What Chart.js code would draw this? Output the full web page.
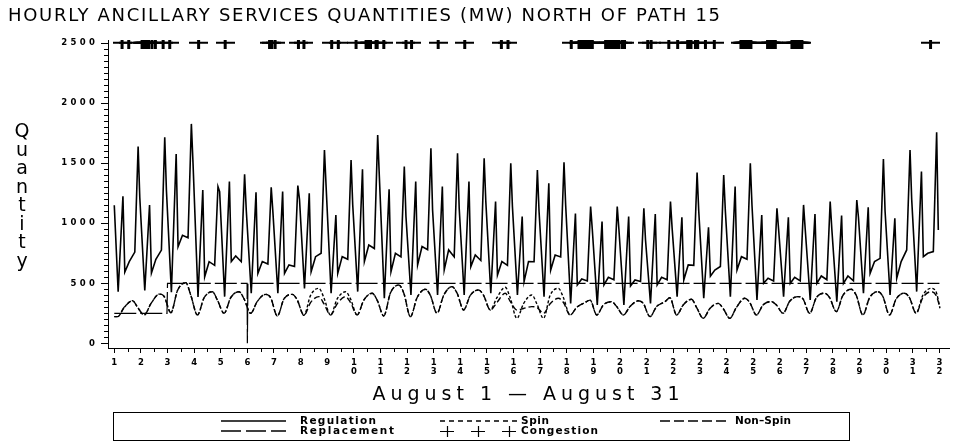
<!DOCTYPE html>
<html>
<head>
<meta charset="utf-8">
<script src="https://cdn.jsdelivr.net/npm/chart.js@4.4.1/dist/chart.umd.min.js"></script>
<style>
  html, body { margin: 0; padding: 0; background: #fff; }
  #wrap { width: 956px; height: 443px; position: relative; }
</style>
</head>
<body>
<div id="wrap"><canvas id="qtyChart"></canvas></div>
<script>
// x axis: days of August (tick labels are the day numbers, digits stacked)
const dayTicks = [1, 2, 3, 4, 5, 6, 7, 8, 9, 10, 11, 12, 13, 14, 15, 16, 17, 18, 19, 20, 21, 22, 23, 24, 25, 26, 27, 28, 29, 30, 31, 32];
const days = [1, 2, 3, 4, 5, 6, 7, 8, 9, 10, 11, 12, 13, 14, 15, 16, 17, 18, 19, 20, 21, 22, 23, 24, 25, 26, 27, 28, 29, 30, 31];
const quantityTicks = [0, 500, 1000, 1500, 2000, 2500];

// Regulation (MW), read per day at these hours of the day
const regHours = [3.5, 7.8, 9.5, 13.5, 18.5, 21.5, 23];
const regStart = 1150;
const regLow = [430, 440, 426, 387, 389, 417, 417, 458, 417, 431, 375, 403, 403, 403, 417, 403, 389, 333, 320, 320, 333, 389, 375, 389, 361, 389, 361, 347, 417, 403, 431];
const regMorning = [1225, 1153, 1578, 1278, 1347, 1258, 1264, 1250, 1069, 1450, 1283, 1347, 1306, 1347, 1181, 1056, 1333, 1081, 1014, 1056, 1078, 1050, 967, 1306, 1069, 1050, 1078, 1064, 1133, 1042, 1431];
const regAfterMorning = [594, 585, 805, 554, 681, 583, 583, 597, 583, 681, 597, 653, 611, 639, 569, 514, 611, 486, 486, 478, 486, 528, 560, 611, 500, 500, 500, 500, 583, 542, 722];
const regMidday = [680, 700, 900, 680, 728, 681, 653, 722, 722, 819, 750, 806, 778, 736, 681, 681, 736, 536, 550, 528, 550, 653, 611, 722, 542, 550, 561, 561, 681, 681, 750];
const regLateDay = [760, 777, 880, 650, 680, 660, 640, 750, 700, 790, 720, 780, 720, 690, 650, 680, 720, 520, 530, 515, 530, 650, 640, 700, 520, 520, 530, 520, 708, 778, 764];
const regEvening = [1640, 1717, 1828, 1306, 1408, 1300, 1314, 1611, 1528, 1736, 1472, 1625, 1583, 1542, 1500, 1444, 1508, 1139, 1139, 1125, 1181, 1422, 1403, 1500, 1125, 1153, 1181, 1194, 1536, 1611, 1758];
const regNight = [1215, 1278, 1500, 1264, 1111, 1097, 1200, 1306, 1153, 1389, 1056, 1111, 1125, 1181, 1139, 1100, 1150, 950, 950, 861, 958, 1100, 1100, 1150, 950, 950, 950, 1050, 1100, 1200, 945];

// Spin and Non-Spin (MW), read per day at these hours
const reserveHours = [3, 9, 16.5, 21];
const spinStart = 222;
const spinLow = [222, 236, 255, 236, 250, 250, 227, 233, 236, 236, 228, 222, 250, 278, 278, 208, 208, 236, 236, 236, 222, 236, 208, 208, 236, 250, 250, 264, 236, 236, 250];
const spinMorning = [300, 330, 440, 380, 380, 350, 370, 400, 370, 360, 420, 380, 400, 400, 380, 330, 400, 300, 320, 306, 306, 320, 290, 300, 320, 350, 380, 400, 380, 370, 400];
const spinPeak = [355, 410, 505, 430, 430, 408, 408, 458, 430, 417, 486, 450, 472, 444, 467, 403, 458, 340, 347, 355, 347, 367, 333, 375, 347, 389, 417, 450, 430, 417, 458];
const spinEvening = [300, 390, 400, 360, 370, 380, 360, 380, 370, 360, 420, 400, 420, 400, 380, 330, 380, 360, 306, 333, 380, 300, 290, 340, 320, 370, 380, 400, 390, 380, 430];
const spinEnd = 292;

const nonSpinStart = 222;
const nonSpinLow = [222, 236, 255, 236, 250, 250, 227, 233, 236, 236, 228, 222, 250, 278, 278, 278, 250, 236, 236, 236, 222, 236, 208, 208, 236, 250, 250, 264, 236, 236, 250];
const nonSpinMorning = [300, 330, 440, 380, 380, 350, 370, 340, 330, 360, 420, 380, 400, 400, 340, 290, 330, 300, 320, 306, 306, 320, 290, 300, 320, 350, 380, 400, 380, 370, 380];
const nonSpinPeak = [355, 410, 505, 430, 430, 408, 408, 389, 389, 417, 486, 450, 472, 444, 417, 306, 375, 340, 347, 355, 347, 367, 333, 375, 347, 389, 417, 450, 430, 417, 430];
const nonSpinEvening = [300, 390, 400, 360, 370, 380, 360, 330, 340, 360, 420, 400, 420, 400, 350, 300, 340, 360, 306, 333, 380, 300, 290, 340, 320, 370, 380, 400, 390, 380, 400];
const nonSpinEnd = 300;

// Replacement (MW): step series, positions in days
const replacementDays = [1.0, 2.98, 3.0, 5.99, 6.0, 6.02, 32.0];
const replacementValues = [250, 250, 500, 500, 0, 500, 500];

// Congestion: hours (from Aug 1 00:00) flagged, drawn at 2500
const congestionLevel = 2500;
const congestionHours = [7, 13, 25, 26, 27, 28, 29, 30, 31, 34, 37, 44, 50, 76, 100, 140, 142, 145, 166, 171,
  196, 202, 218, 227, 228, 230, 231, 236, 237, 243, 263, 268, 292, 316, 349, 355,
  412, 419, 420, 421, 422, 423, 424, 425, 426, 427, 428, 429, 430, 431,
  443, 444, 445, 446, 447, 448, 449, 450, 451, 452, 453, 454, 455, 458, 460,
  481, 484, 500, 508, 517, 518, 519, 520, 524, 526, 533, 541,
  565, 566, 567, 568, 569, 570, 571, 572, 573, 574,
  589, 590, 591, 592, 593, 594, 595, 596,
  611, 612, 613, 614, 615, 616, 617, 618, 619, 620, 736];

function dailyPoints(startVal, hours, cols, endVal) {
  const pts = [];
  if (startVal != null) pts.push({ x: 1, y: startVal });
  days.forEach((d, i) => {
    hours.forEach((h, k) => pts.push({ x: d + h / 24, y: cols[k][i] }));
  });
  if (endVal != null) pts.push({ x: 32.02, y: endVal });
  return pts;
}

function plusMarker(w, h, lw) {
  const c = document.createElement("canvas");
  c.width = w;
  c.height = h;
  const g = c.getContext("2d");
  g.fillStyle = "#000";
  g.fillRect(0, Math.floor(h / 2) - 1, w, 2);
  g.fillRect(Math.floor((w - lw) / 2), 0, lw, h);
  return c;
}

const regulationData = dailyPoints(regStart, regHours,
  [regLow, regMorning, regAfterMorning, regMidday, regLateDay, regEvening, regNight], null);
const spinData = dailyPoints(spinStart, reserveHours, [spinLow, spinMorning, spinPeak, spinEvening], spinEnd);
const nonSpinData = dailyPoints(nonSpinStart, reserveHours, [nonSpinLow, nonSpinMorning, nonSpinPeak, nonSpinEvening], nonSpinEnd);
const replacementData = replacementDays.map((d, i) => ({ x: d, y: replacementValues[i] }));
const congestionData = congestionHours.map(h => ({ x: 1 + h / 24, y: congestionLevel }));

function spacedText(ctx, text, x, y, targetWidth, align) {
  ctx.letterSpacing = "0px";
  const w = ctx.measureText(text).width;
  const sp = targetWidth && text.length > 1 ? (targetWidth - w) / (text.length - 1) : 0;
  ctx.letterSpacing = sp + "px";
  ctx.textAlign = "left";
  let left = x;
  const full = w + sp * (text.length - 1);
  if (align === "center") left = x - full / 2;
  if (align === "right") left = x - full;
  ctx.fillText(text, left, y);
  ctx.letterSpacing = "0px";
}

const decorPlugin = {
  id: "decor",
  afterDraw(chart) {
    const ctx = chart.ctx;
    const xs = chart.scales.x;
    const ys = chart.scales.y;
    const area = chart.chartArea;
    ctx.save();
    ctx.letterSpacing = "0px";
    ctx.fillStyle = "#000";
    ctx.strokeStyle = "#000";
    ctx.lineWidth = 1;

    // minor ticks
    ctx.beginPath();
    for (let v = 50; v < 2500; v += 50) {
      if (v % 500 === 0) continue;
      const py = Math.round(ys.getPixelForValue(v)) + 0.5;
      ctx.moveTo(area.left - 4, py);
      ctx.lineTo(area.left, py);
    }
    for (let d = 1.5; d < 32; d += 1) {
      const px = Math.round(xs.getPixelForValue(d)) + 0.5;
      ctx.moveTo(px, area.bottom);
      ctx.lineTo(px, area.bottom + 4);
    }
    ctx.stroke();

    // y tick labels, wide spaced
    ctx.font = 'bold 8.5px "DejaVu Sans"';
    ctx.textBaseline = "middle";
    ys.ticks.forEach(t => {
      const s = String(t.value);
      const w = s.length * 9.3 - 3.4;
      spacedText(ctx, s, 95, ys.getPixelForValue(t.value), w, "right");
    });

    // title
    ctx.textBaseline = "alphabetic";
    ctx.font = '18px "DejaVu Sans"';
    spacedText(ctx, "HOURLY ANCILLARY SERVICES QUANTITIES (MW) NORTH OF PATH 15", 8, 21, 712, "left");

    // y axis title, letters stacked
    ctx.font = '19px "DejaVu Sans"';
    ctx.textAlign = "center";
    "Quantity".split("").forEach((ch, i) => {
      ctx.fillText(ch, 22, 137 + i * 18.5);
    });

    // x axis title
    ctx.font = '19px "DejaVu Sans"';
    spacedText(ctx, "August 1 \u2014 August 31", 526, 400, 307, "center");

    // legend box
    const bx = 113.5, by = 412.5, bw = 736, bh = 28;
    ctx.strokeRect(bx, by, bw, bh);
    const row1 = 421, row2 = 431;
    const sample = (x0, x1, yy, dash) => {
      ctx.beginPath();
      ctx.setLineDash(dash);
      ctx.lineWidth = 1.3;
      ctx.moveTo(x0, yy);
      ctx.lineTo(x1, yy);
      ctx.stroke();
      ctx.setLineDash([]);
    };
    sample(221, 286, row1, []);
    sample(440, 517, row1, [5, 4]);
    sample(660, 728, row1, [10, 4]);
    sample(221, 286, row2, [20, 5]);
    ctx.lineWidth = 1.2;
    [447, 478, 509].forEach(px => {
      ctx.beginPath();
      ctx.moveTo(px - 7, row2 + 0.5);
      ctx.lineTo(px + 7, row2 + 0.5);
      ctx.moveTo(px + 0.5, row2 - 5);
      ctx.lineTo(px + 0.5, row2 + 6);
      ctx.stroke();
    });
    ctx.font = 'bold 10.5px "DejaVu Sans"';
    ctx.textBaseline = "middle";
    spacedText(ctx, "Regulation", 300, row1, 76, "left");
    spacedText(ctx, "Spin", 521, row1, 28, "left");
    spacedText(ctx, "Non\u2013Spin", 735, row1, 56, "left");
    spacedText(ctx, "Replacement", 300, row2, 94, "left");
    spacedText(ctx, "Congestion", 521, row2, 77, "left");
    ctx.restore();
  }
};

const lineBase = { borderColor: "#000", borderWidth: 1.4, pointRadius: 0, fill: false };

new Chart(document.getElementById("qtyChart"), {
  type: "line",
  data: {
    datasets: [
      { ...lineBase, label: "Regulation", data: regulationData, borderWidth: 1.6, tension: 0 },
      { ...lineBase, label: "Spin", data: spinData, borderDash: [3, 2], cubicInterpolationMode: "monotone" },
      { ...lineBase, label: "Non-Spin", data: nonSpinData, borderDash: [6, 3], cubicInterpolationMode: "monotone" },
      { ...lineBase, label: "Replacement", data: replacementData, borderDash: [22, 4], borderWidth: 1.2 },
      {
        label: "Congestion", data: congestionData, showLine: false,
        pointStyle: plusMarker(19, 11, 3), pointRadius: 6, borderColor: "#000", backgroundColor: "#000"
      }
    ]
  },
  options: {
    responsive: true,
    maintainAspectRatio: false,
    animation: false,
    events: [],
    layout: { padding: { top: 40, right: 6, left: 0, bottom: 0 } },
    plugins: { legend: { display: false }, title: { display: false }, tooltip: { enabled: false } },
    scales: {
      x: {
        type: "linear",
        min: 0.764,
        max: 32.36,
        afterFit: s => { s.height = 95; },
        afterBuildTicks: s => { s.ticks = dayTicks.map(v => ({ value: v })); },
        border: { display: true, color: "#000", width: 1 },
        grid: { display: true, drawOnChartArea: false, drawTicks: true, tickLength: 5, color: "#000" },
        ticks: {
          color: "#000",
          maxRotation: 0,
          autoSkip: false,
          padding: 6,
          font: { family: "DejaVu Sans", weight: "bold", size: 8.5, lineHeight: 1.0 },
          callback: v => String(v).split("")
        }
      },
      y: {
        type: "linear",
        min: -39,
        max: 2527,
        afterFit: s => { s.width = 108; },
        afterBuildTicks: s => { s.ticks = quantityTicks.map(v => ({ value: v })); },
        border: { display: true, color: "#000", width: 1 },
        grid: { display: true, drawOnChartArea: false, drawTicks: true, tickLength: 7, color: "#000" },
        ticks: { display: false }
      }
    }
  },
  plugins: [decorPlugin]
});
</script>
</body>
</html>
